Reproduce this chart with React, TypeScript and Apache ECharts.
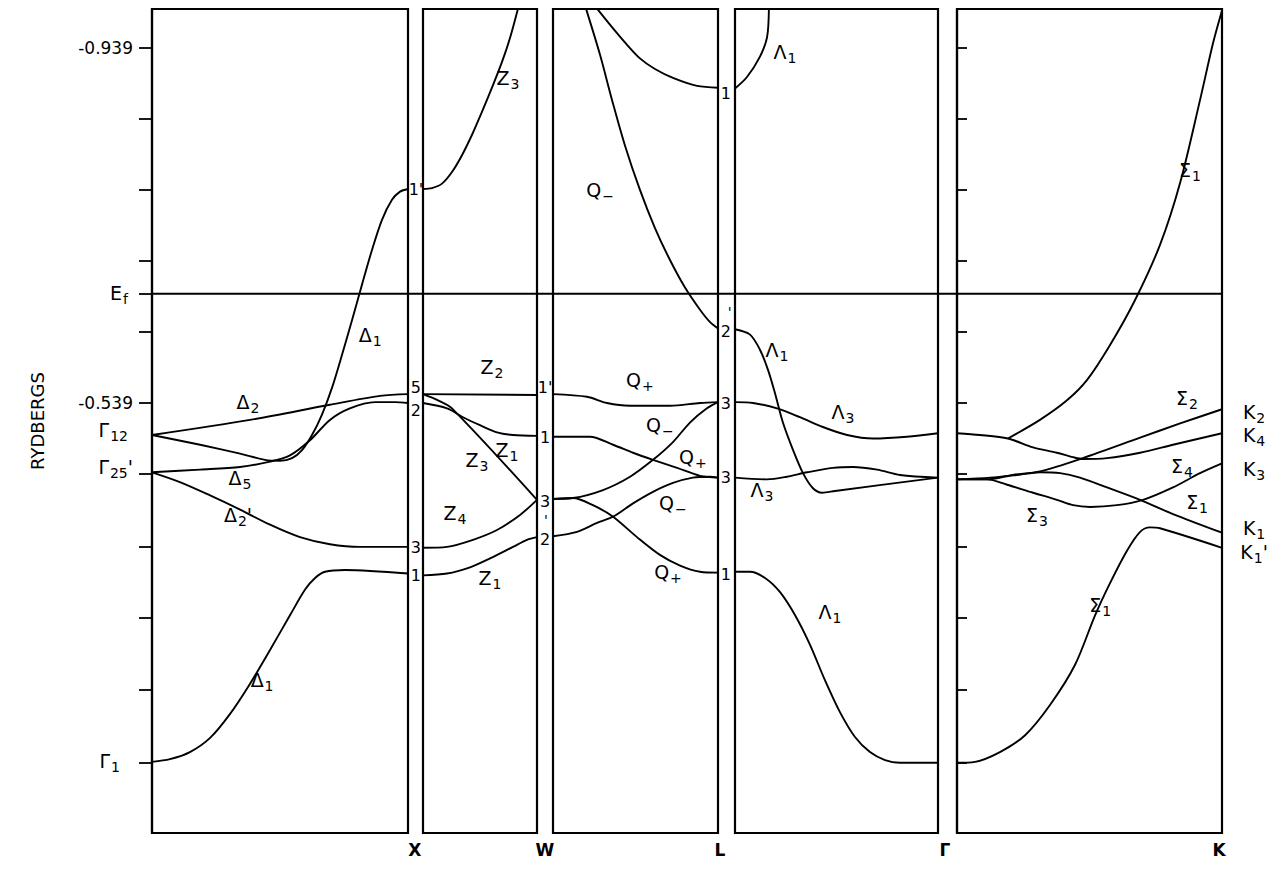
import React, { useEffect, useRef } from "react";
import * as echarts from "echarts";

const INK = "#000000";
const FONT = "DejaVu Sans";

// Energy axis (Rydbergs) shared by every panel
const Y_MIN = 0.0549;
const Y_MAX = 0.9826;
const E_FERMI = 0.662;
const TICK_VALUES = [0.939, 0.859, 0.779, 0.699, 0.619, 0.539, 0.459, 0.377, 0.297, 0.216, 0.1345];
const LEFT_LABEL_VALUES = [0.939, 0.663, 0.539, 0.509, 0.467, 0.136];
const LEFT_LABEL_TEXTS = ["{n|-0.939}", "{m|E}{sr5|f}", "{n|-0.539}", "{m|Γ}{sr5|12}", "{m|Γ}{s|25}{m|'}", "{m|Γ}{sr13|1}"];
const K_LABEL_VALUES = [0.529, 0.503, 0.465, 0.398, 0.371];
const K_LABEL_TEXTS = ["{m|K}{s|2}", "{m|K}{s|4}", "{m|K}{s|3}", "{m|K}{s|1}", "{m|K}{s|1}{m|'}"];

// x = fraction along each segment, y = energy (Ry)
// Γ – X
const gxDelta1Low = [[0, 0.135], [0.07, 0.138], [0.148, 0.146], [0.227, 0.162], [0.305, 0.189], [0.383, 0.223], [0.461, 0.261], [0.539, 0.3], [0.598, 0.329], [0.637, 0.342], [0.676, 0.349], [0.754, 0.351], [1, 0.347]];
const gxDelta1Up = [[0, 0.503], [0.188, 0.492], [0.344, 0.482], [0.441, 0.475], [0.5, 0.474], [0.547, 0.477], [0.586, 0.486], [0.625, 0.503], [0.664, 0.526], [0.703, 0.556], [0.742, 0.593], [0.781, 0.632], [0.82, 0.672], [0.859, 0.711], [0.898, 0.745], [0.938, 0.768], [0.969, 0.777], [1, 0.78]];
const gxDelta2 = [[0, 0.503], [0.383, 0.52], [0.695, 0.537], [0.891, 0.547], [1, 0.549]];
const gxDelta5 = [[0, 0.461], [0.188, 0.464], [0.344, 0.467], [0.461, 0.473], [0.539, 0.48], [0.617, 0.497], [0.695, 0.52], [0.773, 0.533], [0.871, 0.54], [0.949, 0.54], [1, 0.539]];
const gxDelta2p = [[0, 0.461], [0.109, 0.45], [0.227, 0.435], [0.344, 0.419], [0.461, 0.402], [0.578, 0.388], [0.695, 0.38], [0.813, 0.377], [1, 0.377]];
// X – W
const xwZ3Top = [[0, 0.78], [0.079, 0.781], [0.167, 0.786], [0.254, 0.799], [0.342, 0.818], [0.43, 0.841], [0.518, 0.867], [0.605, 0.894], [0.693, 0.923], [0.763, 0.95], [0.833, 0.983]];
const xwZ2 = [[0, 0.549], [1, 0.548]];
const xwZ1Up = [[0, 0.539], [0.211, 0.533], [0.351, 0.523], [0.5, 0.514], [0.649, 0.506], [0.789, 0.503], [1, 0.502]];
const xwZ3 = [[0, 0.549], [0.132, 0.542], [0.254, 0.533], [1, 0.43]];
const xwZ4 = [[0, 0.376], [0.211, 0.377], [0.439, 0.385], [0.649, 0.396], [0.851, 0.413], [1, 0.43]];
const xwZ1Low = [[0, 0.345], [0.211, 0.347], [0.412, 0.354], [0.588, 0.364], [0.789, 0.377], [0.912, 0.385], [1, 0.388]];
// W – L
const wlQmTop = [[0.2, 0.983], [0.285, 0.931], [0.358, 0.88], [0.436, 0.829], [0.527, 0.779], [0.618, 0.736], [0.709, 0.7], [0.8, 0.669], [0.891, 0.644], [0.952, 0.63], [1, 0.623]];
const wlArc = [[0.267, 0.983], [0.345, 0.965], [0.436, 0.945], [0.527, 0.927], [0.618, 0.915], [0.727, 0.905], [0.873, 0.896], [1, 0.894]];
const wlTop = [[0, 0.549], [0.206, 0.546], [0.327, 0.539], [0.467, 0.536], [0.709, 0.536], [0.891, 0.539], [1, 0.54]];
const wlW1 = [[0, 0.501], [0.224, 0.501], [0.364, 0.492], [0.485, 0.483], [0.606, 0.475], [0.752, 0.466], [0.891, 0.457], [1, 0.455]];
const wlQpUp = [[0, 0.431], [0.121, 0.432], [0.303, 0.441], [0.467, 0.456], [0.606, 0.475], [0.727, 0.495], [0.83, 0.517], [0.933, 0.533], [1, 0.54]];
const wlQpLow = [[0, 0.431], [0.121, 0.432], [0.242, 0.424], [0.364, 0.411], [0.509, 0.388], [0.648, 0.368], [0.77, 0.356], [0.891, 0.349], [1, 0.348]];
const wlQm = [[0, 0.389], [0.145, 0.394], [0.267, 0.404], [0.364, 0.411], [0.485, 0.426], [0.606, 0.439], [0.727, 0.449], [0.848, 0.455], [0.952, 0.456], [1, 0.455]];
// L – Γ
const lgLam1Top = [[0, 0.893], [0.059, 0.906], [0.123, 0.929], [0.158, 0.951], [0.167, 0.983]];
const lgLam1 = [[0, 0.622], [0.074, 0.616], [0.123, 0.599], [0.163, 0.576], [0.197, 0.55], [0.236, 0.517], [0.286, 0.486], [0.335, 0.46], [0.384, 0.443], [0.429, 0.438], [0.493, 0.44], [1, 0.455]];
const lgLam3Up = [[0, 0.54], [0.089, 0.539], [0.207, 0.533], [0.32, 0.523], [0.433, 0.512], [0.552, 0.503], [0.68, 0.499], [0.847, 0.501], [1, 0.505]];
const lgLam3Low = [[0, 0.455], [0.158, 0.453], [0.256, 0.456], [0.355, 0.461], [0.483, 0.466], [0.581, 0.467], [0.7, 0.464], [0.813, 0.458], [1, 0.455]];
const lgLam1Low = [[0, 0.349], [0.074, 0.349], [0.148, 0.342], [0.222, 0.326], [0.296, 0.3], [0.369, 0.267], [0.443, 0.227], [0.517, 0.191], [0.591, 0.163], [0.665, 0.146], [0.739, 0.137], [0.813, 0.134], [1, 0.134]];
// Γ – K
const gkSig1Up = [[0.192, 0.499], [0.313, 0.52], [0.415, 0.542], [0.491, 0.565], [0.577, 0.604], [0.672, 0.655], [0.766, 0.717], [0.842, 0.787], [0.917, 0.88], [0.966, 0.944], [1, 0.981]];
const gkG12 = [[0, 0.505], [0.087, 0.503], [0.192, 0.499], [0.287, 0.489], [0.377, 0.483], [0.438, 0.478], [0.475, 0.476], [0.566, 0.477], [0.691, 0.483], [0.815, 0.492], [1, 0.505]];
const gkSig2 = [[0, 0.453], [0.113, 0.453], [0.211, 0.458], [0.313, 0.462], [0.475, 0.477], [0.691, 0.5], [0.842, 0.516], [1, 0.532]];
const gkSig4 = [[0, 0.453], [0.125, 0.455], [0.226, 0.458], [0.313, 0.461], [0.389, 0.46], [0.464, 0.455], [0.566, 0.444], [0.691, 0.43], [0.815, 0.414], [1, 0.393]];
const gkSig3 = [[0, 0.453], [0.113, 0.453], [0.189, 0.447], [0.287, 0.438], [0.377, 0.43], [0.438, 0.424], [0.502, 0.422], [0.604, 0.424], [0.702, 0.43], [0.815, 0.444], [0.917, 0.46], [1, 0.471]];
const gkSig1Low = [[0, 0.134], [0.068, 0.135], [0.162, 0.146], [0.257, 0.165], [0.351, 0.199], [0.445, 0.244], [0.521, 0.3], [0.577, 0.336], [0.642, 0.373], [0.691, 0.394], [0.728, 0.399], [0.766, 0.398], [1, 0.376]];

const FERMI_LINE = [[0, E_FERMI], [1, E_FERMI]];

const PANEL_CURVES = [
  [gxDelta1Low, gxDelta1Up, gxDelta2, gxDelta5, gxDelta2p],
  [xwZ3Top, xwZ2, xwZ1Up, xwZ3, xwZ4, xwZ1Low],
  [wlQmTop, wlArc, wlTop, wlW1, wlQpUp, wlQpLow, wlQm],
  [lgLam1Top, lgLam1, lgLam3Up, lgLam3Low, lgLam1Low],
  [gkSig1Up, gkG12, gkSig2, gkSig4, gkSig3, gkSig1Low],
];

// annotations: [x fraction, energy, text]
const PANEL_LABELS: [number, number, string][][] = [
  [
    [0.375, 0.54, "{m|Δ}{s|2}"], [0.344, 0.455, "{m|Δ}{s|5}"], [0.336, 0.413, "{m|Δ}{s|2}{m|'}"],
    [0.852, 0.616, "{m|Δ}{s|1}"], [0.43, 0.227, "{m|Δ}{s|1}"],
    [1.031, 0.779, "{p|1'}"], [1.031, 0.556, "{p|5}"], [1.031, 0.531, "{p|2}"], [1.031, 0.376, "{p|3}"], [1.031, 0.345, "{p|1}"],
    [1.027, 0.036, "{b|X}"],
  ],
  [
    [0.746, 0.905, "{m|Z}{s|3}"], [0.605, 0.58, "{m|Z}{s|2}"], [0.737, 0.486, "{m|Z}{s|1}"],
    [0.474, 0.475, "{m|Z}{s|3}"], [0.281, 0.415, "{m|Z}{s|4}"], [0.588, 0.342, "{m|Z}{s|1}"],
    [1.07, 0.557, "{p|1'}"], [1.07, 0.5, "{p|1}"], [1.07, 0.428, "{p|3}"], [1.078, 0.407, "{q|'}"], [1.07, 0.385, "{p|2}"],
    [1.07, 0.036, "{b|W}"],
  ],
  [
    [0.285, 0.779, "{m|Q}{s|−}"], [0.527, 0.565, "{m|Q}{s|+}"], [0.648, 0.514, "{m|Q}{s|−}"],
    [0.848, 0.478, "{m|Q}{s|+}"], [0.727, 0.426, "{m|Q}{s|−}"], [0.697, 0.349, "{m|Q}{s|+}"],
    [1.048, 0.888, "{p|1}"], [1.048, 0.62, "{p|2}"], [1.07, 0.641, "{q|'}"], [1.048, 0.539, "{p|3}"], [1.048, 0.455, "{p|3}"], [1.048, 0.346, "{p|1}"],
    [1.012, 0.036, "{b|L}"],
  ],
  [
    [0.246, 0.934, "{m|Λ}{s|1}"], [0.207, 0.599, "{m|Λ}{s|1}"], [0.532, 0.529, "{m|Λ}{s|3}"],
    [0.133, 0.441, "{m|Λ}{s|3}"], [0.468, 0.304, "{m|Λ}{s|1}"],
    [1.034, 0.036, "{b|Γ}"],
  ],
  [
    [0.879, 0.801, "{m|Σ}{s|1}"], [0.868, 0.545, "{m|Σ}{s|2}"], [0.849, 0.468, "{m|Σ}{s|4}"],
    [0.906, 0.428, "{m|Σ}{s|1}"], [0.302, 0.413, "{m|Σ}{s|3}"], [0.54, 0.312, "{m|Σ}{s|1}"],
    [0.989, 0.036, "{b|K}"],
  ],
];
const K_LABEL_X = 1.121;

const PANEL_BOXES = [
  { left: 152, width: 256 },
  { left: 423, width: 114 },
  { left: 553, width: 165 },
  { left: 735, width: 203 },
  { left: 957, width: 265 },
];
const GRID_TOP = 9;
const GRID_HEIGHT = 824;

const base = { fontFamily: FONT, color: INK, textBorderWidth: 0, textShadowBlur: 0, opacity: 1 };
const RICH: any = {
  n: { ...base, fontSize: 17, lineHeight: 22 },
  m: { ...base, fontSize: 19, lineHeight: 22 },
  s: { ...base, fontSize: 14, lineHeight: 16, padding: [12, 0, 0, 1] },
  sr5: { ...base, fontSize: 14, lineHeight: 16, padding: [12, 5, 0, 1] },
  sr13: { ...base, fontSize: 14, lineHeight: 16, padding: [12, 13, 0, 1] },
  p: { ...base, fontSize: 16, lineHeight: 18 },
  q: { ...base, fontSize: 14, lineHeight: 14 },
  b: { ...base, fontSize: 17, lineHeight: 20, fontWeight: "bold" },
};

function pick(values: number[], texts: string[], v: number) {
  for (let i = 0; i < values.length; i++) {
    if (Math.abs(values[i] - v) < 1e-6) return texts[i];
  }
  return "";
}

function buildOption(): any {
  const grid: any[] = PANEL_BOXES.map((b) => ({
    left: b.left,
    top: GRID_TOP,
    width: b.width,
    height: GRID_HEIGHT,
    show: true,
    borderColor: INK,
    borderWidth: 2.2,
    backgroundColor: "transparent",
    containLabel: false,
    outerBoundsMode: "none",
  }));
  grid.push({ left: 152, top: GRID_TOP, width: 1070, height: GRID_HEIGHT, show: false, containLabel: false, outerBoundsMode: "none" });

  const xAxis: any[] = grid.map((_, i) => ({ type: "value", gridIndex: i, min: 0, max: 1, show: false }));
  const hiddenY = (i: number) => ({ type: "value", gridIndex: i, min: Y_MIN, max: Y_MAX, show: false });
  const yAxis: any[] = [
    {
      type: "value",
      gridIndex: 0,
      min: Y_MIN,
      max: Y_MAX,
      position: "left",
      axisLine: { show: true, lineStyle: { color: INK, width: 2.2 } },
      axisTick: { show: true, inside: false, length: 13, lineStyle: { color: INK, width: 1.8 }, customValues: [...TICK_VALUES, E_FERMI] },
      axisLabel: {
        show: true,
        customValues: LEFT_LABEL_VALUES,
        margin: 19,
        color: INK,
        fontFamily: FONT,
        fontSize: 17,
        hideOverlap: false,
        formatter: (v: number) => pick(LEFT_LABEL_VALUES, LEFT_LABEL_TEXTS, v),
        rich: RICH,
      },
      splitLine: { show: false },
      name: "RYDBERGS",
      nameLocation: "middle",
      nameRotate: 90,
      nameGap: 106,
      nameTextStyle: { fontFamily: FONT, fontSize: 18, color: INK },
    },
    hiddenY(1),
    hiddenY(2),
    hiddenY(3),
    {
      type: "value",
      gridIndex: 4,
      min: Y_MIN,
      max: Y_MAX,
      position: "right",
      axisLine: { show: true, lineStyle: { color: INK, width: 2.2 } },
      axisTick: { show: true, inside: false, length: 10, lineStyle: { color: INK, width: 1.8 }, customValues: TICK_VALUES },
      axisLabel: { show: false },
      splitLine: { show: false },
    },
    hiddenY(5),
  ];

  const labelSeries = (i: number, items: [number, number, string][]) => ({
    type: "scatter",
    xAxisIndex: i,
    yAxisIndex: i,
    clip: false,
    silent: true,
    symbolSize: 0,
    itemStyle: { color: INK },
    label: { show: true, position: "inside", color: INK, fontFamily: FONT, textBorderWidth: 0, opacity: 1, rich: RICH },
    data: items.map((l) => ({ value: [l[0], l[1]], label: { formatter: l[2] } })),
  });

  const series: any[] = [];
  PANEL_CURVES.forEach((curves, i) => {
    curves.forEach((data) => {
      series.push({
        type: "line",
        xAxisIndex: i,
        yAxisIndex: i,
        data,
        symbol: "none",
        smooth: 0.3,
        clip: true,
        silent: true,
        lineStyle: { color: INK, width: 1.9 },
      });
    });
    series.push(labelSeries(i, PANEL_LABELS[i]));
  });
  series.push(
    labelSeries(
      4,
      K_LABEL_VALUES.map((v, j) => [K_LABEL_X, v, K_LABEL_TEXTS[j]] as [number, number, string])
    )
  );
  series.push({
    type: "line",
    xAxisIndex: 5,
    yAxisIndex: 5,
    data: FERMI_LINE,
    symbol: "none",
    silent: true,
    lineStyle: { color: INK, width: 1.8 },
  });

  return {
    animation: false,
    backgroundColor: "#ffffff",
    textStyle: { fontFamily: FONT },
    grid,
    xAxis,
    yAxis,
    series,
  };
}

export default function App() {
  const ref = useRef<HTMLDivElement>(null);
  useEffect(() => {
    if (!ref.current) return;
    const chart = echarts.init(ref.current, null, { renderer: "svg" });
    chart.setOption(buildOption());
    return () => chart.dispose();
  }, []);
  return (
    <div
      ref={ref}
      style={{ position: "fixed", left: 0, top: 0, width: 1281, height: 869, background: "#fff" }}
    />
  );
}
